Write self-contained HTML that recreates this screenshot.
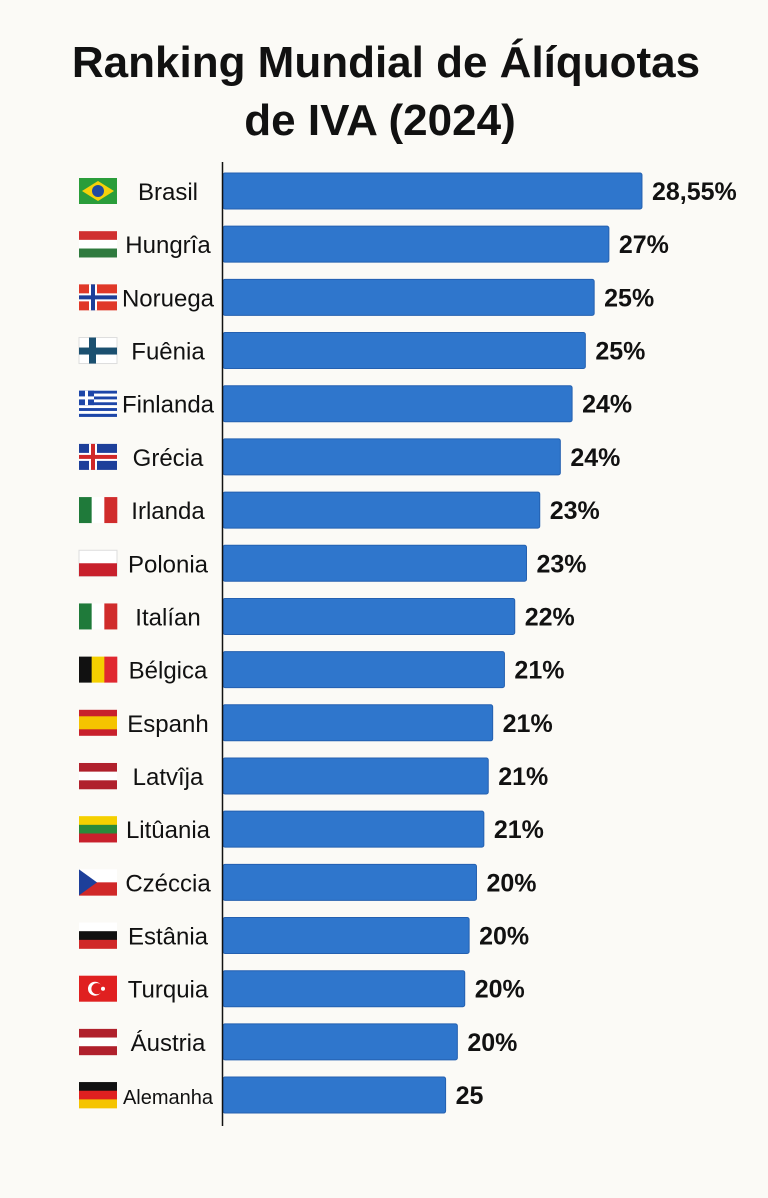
<!DOCTYPE html>
<html><head><meta charset="utf-8"><style>
html,body{margin:0;padding:0;background:#fbfaf6;}
body{width:768px;height:1193px;overflow:hidden;font-family:"Liberation Sans",sans-serif;}
</style></head><body>
<svg id="chart" width="768" height="1193" xmlns="http://www.w3.org/2000/svg">
<text x="386" y="77" text-anchor="middle" font-size="44" font-weight="bold" fill="#111">Ranking Mundial de Álíquotas</text>
<text x="380" y="135" text-anchor="middle" font-size="44" font-weight="bold" fill="#111">de IVA (2024)</text>
<g id="bars"></g>
<line x1="222.5" y1="162" x2="222.5" y2="1126" stroke="#111" stroke-width="1.5"/>
</svg>
<script>
const countries=["Brasil","Hungrîa","Noruega","Fuênia","Finlanda","Grécia","Irlanda","Polonia","Italían","Bélgica","Espanh","Latvîja","Litûania","Czéccia","Estânia","Turquia","Áustria","Alemanha"];
const values=[28.55,26.3,25.3,24.7,23.8,23.0,21.6,20.7,19.9,19.2,18.4,18.1,17.8,17.3,16.8,16.5,16.0,15.2];
const valueLabels=["28,55%","27%","25%","25%","24%","24%","23%","23%","22%","21%","21%","21%","21%","20%","20%","20%","20%","25"];
const flags=["br","hu","no","fi","gr","is","it","pl","it","be","es","lv","lt","cz","ee","tr","at","de"];
const NS="http://www.w3.org/2000/svg";
const x0=222, pxPerUnit=14.71;
const xScale=v=>x0+v*pxPerUnit;
const yScale=i=>191+i*53.18;
const g=document.getElementById('bars');
function mk(tag,attrs,parent){const e=document.createElementNS(NS,tag);for(const k in attrs)e.setAttribute(k,attrs[k]);parent.appendChild(e);return e;}
function stripesH(p,cols){const h=26/cols.length;cols.forEach((c,i)=>mk('rect',{x:0,y:i*h,width:38,height:h+0.3,fill:c},p));}
function stripesV(p,cols){const w=38/cols.length;cols.forEach((c,i)=>mk('rect',{x:i*w,y:0,width:w+0.3,height:26,fill:c},p));}
function drawFlag(p,f){
 if(f==="br"){mk('rect',{width:38,height:26,fill:"#2a9d3a"},p);mk('polygon',{points:"19,3 35,13 19,23 3,13",fill:"#f5d10a"},p);mk('circle',{cx:19,cy:13,r:6,fill:"#1f4aa0"},p);}
 else if(f==="hu")stripesH(p,["#d03030","#ffffff","#2f7a3e"]);
 else if(f==="no"){mk('rect',{width:38,height:26,fill:"#e03828"},p);mk('rect',{x:10,y:0,width:8,height:26,fill:"#fff"},p);mk('rect',{x:0,y:9,width:38,height:8,fill:"#fff"},p);mk('rect',{x:12,y:0,width:4,height:26,fill:"#1d3f9a"},p);mk('rect',{x:0,y:11,width:38,height:4,fill:"#1d3f9a"},p);}
 else if(f==="fi"){mk('rect',{width:38,height:26,fill:"#fff",stroke:"#ddd"},p);mk('rect',{x:10,y:0,width:7,height:26,fill:"#1b5070"},p);mk('rect',{x:0,y:10,width:38,height:7,fill:"#1b5070"},p);}
 else if(f==="gr"){for(let i=0;i<9;i++)mk('rect',{x:0,y:i*26/9,width:38,height:26/9+0.2,fill:i%2?"#fff":"#1d46a8"},p);mk('rect',{x:0,y:0,width:15,height:14.4,fill:"#1d46a8"},p);mk('rect',{x:6,y:0,width:3,height:14.4,fill:"#fff"},p);mk('rect',{x:0,y:5.7,width:15,height:3,fill:"#fff"},p);}
 else if(f==="is"){mk('rect',{width:38,height:26,fill:"#1d3f9a"},p);mk('rect',{x:10,y:0,width:8,height:26,fill:"#fff"},p);mk('rect',{x:0,y:9,width:38,height:8,fill:"#fff"},p);mk('rect',{x:12,y:0,width:4,height:26,fill:"#d02828"},p);mk('rect',{x:0,y:11,width:38,height:4,fill:"#d02828"},p);}
 else if(f==="it")stripesV(p,["#1f7a3a","#ffffff","#d02c2c"]);
 else if(f==="pl"){mk('rect',{width:38,height:26,fill:"#fff",stroke:"#ddd"},p);mk('rect',{x:0,y:13,width:38,height:13,fill:"#c8202c"},p);}
 else if(f==="be")stripesV(p,["#111","#f5d000","#e02830"]);
 else if(f==="es"){mk('rect',{width:38,height:26,fill:"#c8202c"},p);mk('rect',{x:0,y:6.5,width:38,height:13,fill:"#f5c400"},p);}
 else if(f==="lv"||f==="at")stripesH(p,["#b0202c","#ffffff","#b0202c"]);
 else if(f==="lt")stripesH(p,["#f5d000","#2a8a3a","#c8202c"]);
 else if(f==="cz"){stripesH(p,["#ffffff","#d02828"]);mk('polygon',{points:"0,0 18,13 0,26",fill:"#1d3f9a"},p);}
 else if(f==="ee")stripesH(p,["#ffffff","#111","#d02828"]);
 else if(f==="tr"){mk('rect',{width:38,height:26,fill:"#e02020"},p);mk('circle',{cx:16,cy:13,r:7,fill:"#fff"},p);mk('circle',{cx:18,cy:13,r:5.6,fill:"#e02020"},p);mk('circle',{cx:24,cy:13,r:2,fill:"#fff"},p);}
 else if(f==="de")stripesH(p,["#111","#e02020","#f5c400"]);
}
countries.forEach((name,i)=>{
 const cy=yScale(i);
 const row=mk('g',{},g);
 
 
 const fl=mk('g',{transform:`translate(79,${cy-13})`},row);
 
 
 drawFlag(fl,flags[i]);
 const t=mk('text',{x:168,y:cy+9,'text-anchor':'middle','font-size':name==="Alemanha"?20:24,fill:'#111'},row);
 t.textContent=name;
 
 
 const xe=xScale(values[i]);
 const b=mk('rect',{x:x0+1,y:cy-18,width:xe-x0-1,height:36,rx:2,fill:'#2f76cc',stroke:'#2460b0','stroke-width':1},row);
 
 
 const v=mk('text',{x:xe+10,y:cy+9,'font-size':25,'font-weight':'bold',fill:'#111'},row);
 v.textContent=valueLabels[i];
 
 
});
</script>
</body></html>
